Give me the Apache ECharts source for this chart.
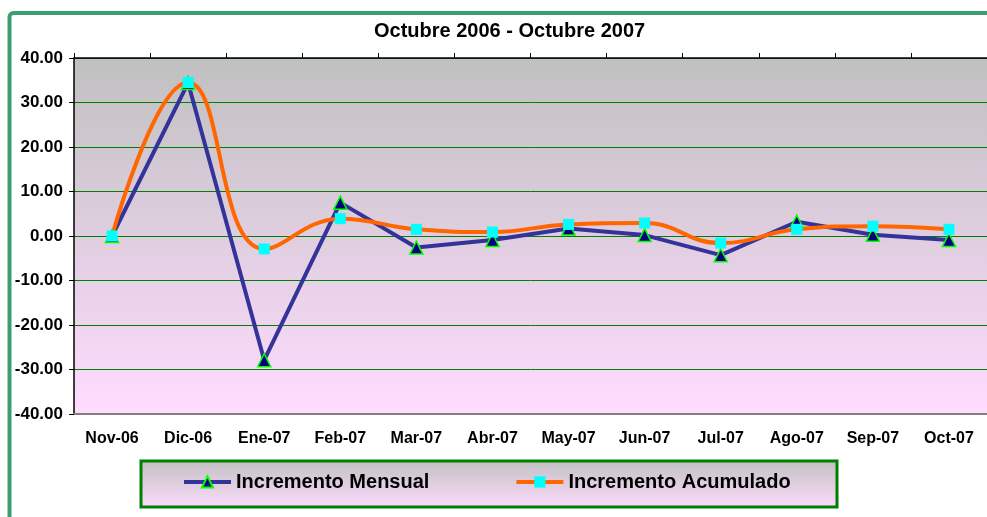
<!DOCTYPE html>
<html>
<head>
<meta charset="utf-8">
<script src="https://cdn.jsdelivr.net/npm/echarts@6/dist/echarts.min.js"></script>
<style>
  html, body { margin: 0; padding: 0; background: #fff; }
  #main { width: 987px; height: 517px; }
</style>
</head>
<body>
<div id="main"></div>
<script>
// datos
var meses = ['Nov-06', 'Dic-06', 'Ene-07', 'Feb-07', 'Mar-07', 'Abr-07', 'May-07', 'Jun-07', 'Jul-07', 'Ago-07', 'Sep-07', 'Oct-07']
var incrementoMensual = [0, 34.4, -27.9, 7.5, -2.6, -0.9, 1.7, 0.2, -4.3, 3.2, 0.3, -0.9]
var incrementoAcumulado = [0, 34.5, -2.9, 3.9, 1.5, 0.9, 2.6, 2.9, -1.6, 1.5, 2.2, 1.5]
var yTicks = { min: -40, max: 40, interval: 10 }

var chartDom = document.getElementById('main')
var myChart = echarts.init(chartDom)

var fondo = {
  type: 'linear', x: 0, y: 0, x2: 0, y2: 1,
  colorStops: [
    { offset: 0, color: '#c0c0c0' },
    { offset: 1, color: '#ffdcff' }
  ]
}

var option = {
  animation: false,
  backgroundColor: '#ffffff',
  title: {
    text: 'Octubre 2006 - Octubre 2007',
    left: 374,
    top: 21,
    padding: 0,
    textStyle: {
      fontFamily: 'Liberation Sans, Arial',
      fontSize: 20,
      fontWeight: 'bold',
      color: '#000'
    }
  },
  graphic: [
    {
      type: 'rect',
      z: 0,
      shape: { x: 9.5, y: 13, width: 1020, height: 600, r: 4 },
      style: { fill: 'none', stroke: '#3c9e6e', lineWidth: 4 }
    },
    {
      type: 'rect',
      z: 0,
      shape: { x: 141, y: 461, width: 696, height: 46 },
      style: {
        fill: {
          type: 'linear', x: 0, y: 0, x2: 0, y2: 1,
          colorStops: [
            { offset: 0, color: '#c0c0c0' },
            { offset: 1, color: '#ffdcff' }
          ]
        },
        stroke: '#008000',
        lineWidth: 3
      }
    }
  ],
  legend: {
    left: 182,
    top: 472,
    padding: 0,
    itemWidth: 47,
    itemHeight: 14,
    itemGap: 85,
    lineStyle: { width: 4 },
    textStyle: {
      fontFamily: 'Liberation Sans, Arial',
      fontSize: 20,
      fontWeight: 'bold',
      color: '#000'
    },
    data: ['Incremento Mensual', 'Incremento Acumulado']
  },
  grid: {
    show: true,
    left: 74,
    top: 58,
    width: 918,
    height: 356,
    backgroundColor: fondo,
    borderWidth: 0
  },
  xAxis: [
    {
      type: 'category',
      position: 'top',
      data: meses,
      boundaryGap: true,
      axisLine: { onZero: false, lineStyle: { color: '#000', width: 1.5 } },
      axisTick: { show: true, length: 5, lineStyle: { color: '#000' } },
      axisLabel: { show: false }
    },
    {
      type: 'category',
      position: 'bottom',
      data: meses,
      boundaryGap: true,
      axisLine: { onZero: false, lineStyle: { color: '#808080', width: 2 } },
      axisTick: { show: false },
      axisLabel: {
        margin: 17,
        fontFamily: 'Liberation Sans, Arial',
        fontSize: 16,
        fontWeight: 'bold',
        color: '#000'
      }
    }
  ],
  yAxis: {
    type: 'value',
    min: yTicks.min,
    max: yTicks.max,
    interval: yTicks.interval,
    axisLine: { show: true, onZero: false, lineStyle: { color: '#000', width: 1.5 } },
    axisTick: { show: true, length: 5, lineStyle: { color: '#000' } },
    splitLine: { lineStyle: { color: '#008000', width: 1 } },
    axisLabel: {
      margin: 11,
      formatter: function (v) { return v.toFixed(2) },
      fontFamily: 'Liberation Sans, Arial',
      fontSize: 17,
      fontWeight: 'bold',
      color: '#000'
    }
  },
  series: [
    {
      name: 'Incremento Mensual',
      type: 'line',
      xAxisIndex: 1,
      smooth: false,
      symbol: 'triangle',
      symbolSize: 13,
      showAllSymbol: true,
      lineStyle: { color: '#333399', width: 4 },
      itemStyle: { color: '#000080', borderColor: '#00ff00', borderWidth: 1.5 },
      data: incrementoMensual
    },
    {
      name: 'Incremento Acumulado',
      type: 'line',
      xAxisIndex: 1,
      smooth: 0.45,
      symbol: 'rect',
      symbolSize: 11,
      showAllSymbol: true,
      lineStyle: { color: '#ff6600', width: 4 },
      itemStyle: { color: '#00ffff', borderWidth: 0 },
      data: incrementoAcumulado
    }
  ]
}
option && myChart.setOption(option)
</script>
</body>
</html>
